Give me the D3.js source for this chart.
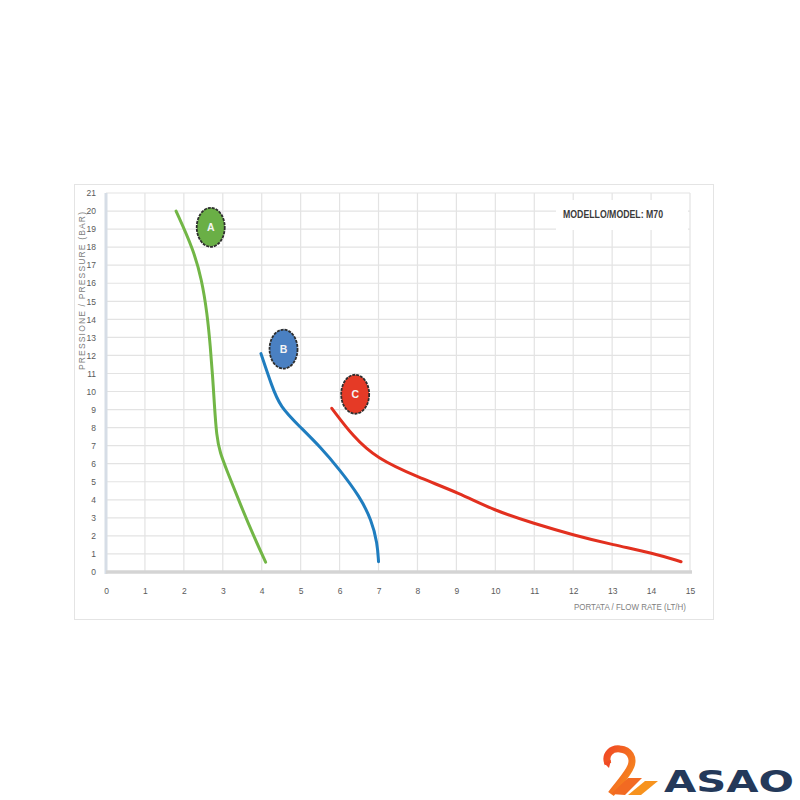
<!DOCTYPE html>
<html><head><meta charset="utf-8">
<script src="https://cdn.jsdelivr.net/npm/d3@7/dist/d3.min.js"></script>
<style>body{margin:0;background:#fff}svg{display:block}</style>
</head><body><svg id="c" width="800" height="800"></svg>
<script>
const xTicks = [0,1,2,3,4,5,6,7,8,9,10,11,12,13,14,15];
const yTicks = [0,1,2,3,4,5,6,7,8,9,10,11,12,13,14,15,16,17,18,19,20,21];
const curveA = [[1.8,20],[2.24,17.9],[2.46,16.2],[2.6,14.3],[2.68,12.5],[2.74,10.8],[2.78,9.4],[2.84,7.5],[2.93,6.6],[3.1,5.65],[3.44,3.8],[3.8,1.95],[4.1,0.55]];
const curveB = [[3.98,12.1],[4.26,10.3],[4.47,9.16],[4.98,8.05],[5.5,6.94],[6.01,5.65],[6.52,4.17],[6.82,2.88],[6.97,1.59],[7.0,0.57]];
const curveC = [[5.8,9.07],[6.35,7.5],[6.95,6.3],[7.98,5.28],[9.09,4.36],[9.95,3.43],[10.97,2.7],[12.0,2.05],[13.03,1.5],[14.06,1.04],[14.77,0.57]];
const seriesNames = ["A","B","C"];
const seriesColors = ["#72b646","#1f7dbf","#e2301f"];
const badgeColors = ["#6aaf46","#4a80c2","#e53a26"];
// badge anchor positions in data units
const badgePos = [[2.69,19.1],[4.56,12.35],[6.4,9.85]];
const modelLabel = "MODELLO/MODEL: M70";
const yTitle = "PRESSIONE / PRESSURE (BAR)";
const xTitle = "PORTATA / FLOW RATE (LT/H)";

const svg = d3.select("#c");
const L = 106, R = 690, T = 193, B = 572;
const x = d3.scaleLinear().domain([0,15]).range([L,R]);
const y = d3.scaleLinear().domain([0,21]).range([B,T]);

// chart frame
svg.append("rect").attr("x",74.5).attr("y",184.5).attr("width",639).attr("height",435)
  .attr("fill","#fff").attr("stroke","#e4e4e4").attr("stroke-width",1);

// grid
svg.append("g").selectAll("line").data(xTicks.slice(1)).join("line")
  .attr("x1",d=>x(d)).attr("x2",d=>x(d)).attr("y1",T).attr("y2",B)
  .attr("stroke","#e3e3e3").attr("stroke-width",1.2);
svg.append("g").selectAll("line").data(yTicks.slice(1)).join("line")
  .attr("x1",L).attr("x2",R).attr("y1",d=>y(d)).attr("y2",d=>y(d))
  .attr("stroke","#e3e3e3").attr("stroke-width",1.2);

// axes lines
svg.append("line").attr("x1",L).attr("x2",L).attr("y1",T).attr("y2",B+2)
  .attr("stroke","#d6dde6").attr("stroke-width",3);
svg.append("line").attr("x1",L).attr("x2",R+2).attr("y1",B).attr("y2",B)
  .attr("stroke","#d4d4d4").attr("stroke-width",3.5);

// tick labels via axes
const xa = svg.append("g").attr("transform",`translate(0,${B+13})`)
  .call(d3.axisBottom(x).tickValues(xTicks).tickSize(0).tickFormat(d3.format("d")));
xa.select(".domain").remove();
xa.selectAll("text").attr("fill","#5a5a5a").attr("font-size",8.5).attr("font-family","Liberation Sans, Arial, sans-serif");
const ya = svg.append("g").attr("transform",`translate(${L-7},0)`)
  .call(d3.axisLeft(y).tickValues(yTicks).tickSize(0).tickFormat(d3.format("d")));
ya.select(".domain").remove();
ya.selectAll("text").attr("fill","#5a5a5a").attr("font-size",8.5).attr("font-family","Liberation Sans, Arial, sans-serif");

// titles
svg.append("text").attr("transform","translate(85,291) rotate(-90)")
  .attr("text-anchor","middle").attr("font-size",8.5).attr("fill","#808080")
  .attr("font-family","Liberation Sans, Arial, sans-serif")
  .attr("textLength",158).attr("lengthAdjust","spacing").text(yTitle);
svg.append("text").attr("x",686).attr("y",610).attr("text-anchor","end")
  .attr("font-size",8.5).attr("fill","#808080")
  .attr("font-family","Liberation Sans, Arial, sans-serif")
  .attr("textLength",112).attr("lengthAdjust","spacingAndGlyphs").text(xTitle);

// model label box
svg.append("rect").attr("x",556).attr("y",200).attr("width",132).attr("height",30).attr("fill","#fff");
svg.append("text").attr("x",613).attr("y",218).attr("text-anchor","middle")
  .attr("font-size",10).attr("font-weight","bold").attr("fill","#3a3a3a")
  .attr("font-family","Liberation Sans, Arial, sans-serif")
  .attr("textLength",100).attr("lengthAdjust","spacingAndGlyphs").text(modelLabel);

// curves
const line = d3.line().x(d=>x(d[0])).y(d=>y(d[1])).curve(d3.curveBasis);
[curveA,curveB,curveC].forEach((c,i)=>{
  svg.append("path").attr("d",line(c)).attr("fill","none")
    .attr("stroke",seriesColors[i]).attr("stroke-width",3).attr("stroke-linecap","round");
});

// badges
badgePos.forEach((p,i)=>{
  const g = svg.append("g").attr("transform",`translate(${x(p[0])},${y(p[1])})`);
  g.append("ellipse").attr("rx",14).attr("ry",19.5).attr("fill",badgeColors[i])
    .attr("stroke","#2e2e2e").attr("stroke-width",1.8).attr("stroke-dasharray","3,1");
  g.append("text").attr("y",4).attr("text-anchor","middle").attr("fill","#f4f4f4")
    .attr("font-size",10.5).attr("font-weight","bold")
    .attr("font-family","Liberation Sans, Arial, sans-serif").text(seriesNames[i]);
});

// logo
const defs = svg.append("defs");
const gr = defs.append("linearGradient").attr("id","lg").attr("x1","0").attr("y1","0").attr("x2","1").attr("y2","1");
gr.append("stop").attr("offset","0").attr("stop-color","#f04a24");
gr.append("stop").attr("offset","1").attr("stop-color","#f7931e");
const logo = svg.append("g");
logo.append("path")
  .attr("d","M608,764 C604,754 612,748 620,749 C630,750 634,758 631,766 C628,774 620,782 611,794")
  .attr("fill","none").attr("stroke","url(#lg)").attr("stroke-width",7).attr("stroke-linecap","butt");
logo.append("path").attr("d","M604,763 L611,760 L609,768 Z").attr("fill","#f04a24");
logo.append("path").attr("d","M611,794 L628,778 L642,778 L625,795 Z").attr("fill","#f26a22");
logo.append("path").attr("d","M628,795 L645,781 L658,781 L641,795 Z").attr("fill","#f7931e");
logo.append("text").attr("x",664).attr("y",792).attr("font-size",31).attr("font-weight","bold")
  .attr("fill","#24395a").attr("font-family","DejaVu Sans, sans-serif")
  .attr("textLength",130).attr("lengthAdjust","spacingAndGlyphs").text("ASAO");
</script></body></html>
